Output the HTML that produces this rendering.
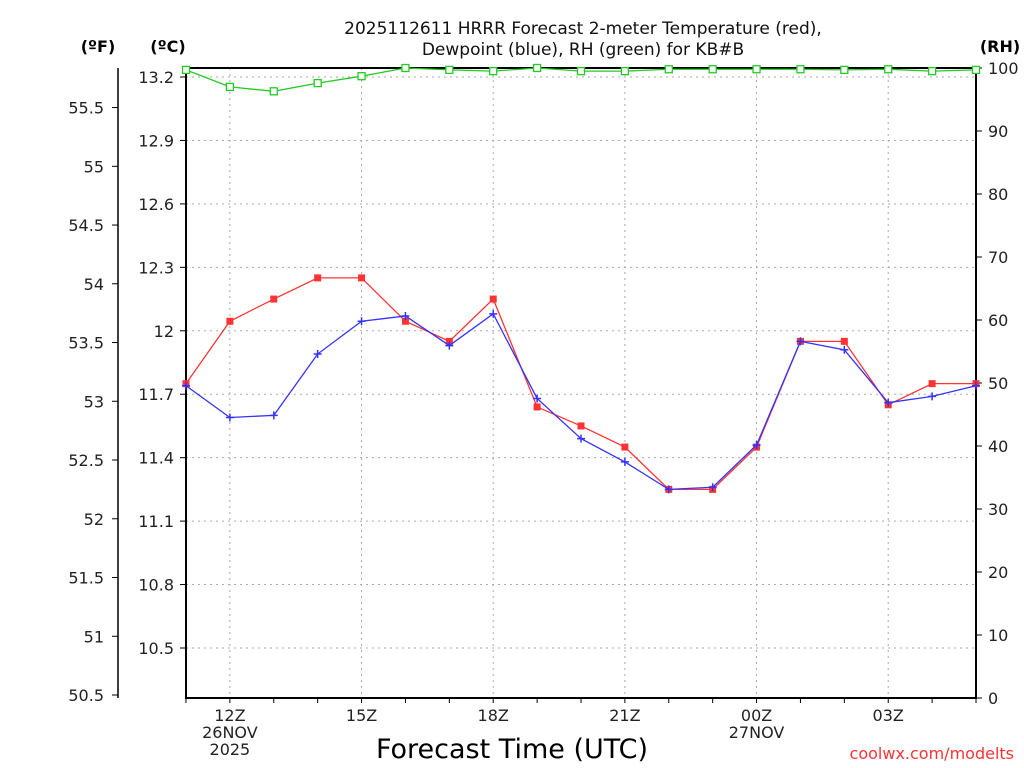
<!DOCTYPE html>
<html><head><meta charset="utf-8"><style>
body{margin:0;background:#fff;}
svg{display:block;font-family:"DejaVu Sans","Liberation Sans",sans-serif;}
</style></head><body>
<svg id="c" width="1024" height="768"></svg>
<script>
const hours=["11Z","12Z","13Z","14Z","15Z","16Z","17Z","18Z","19Z","20Z","21Z","22Z","23Z","00Z","01Z","02Z","03Z","04Z","05Z"];
const tempC=[11.75,12.045,12.15,12.25,12.25,12.045,11.95,12.15,11.64,11.55,11.45,11.25,11.25,11.45,11.95,11.95,11.65,11.75,11.75];
const dewC=[11.74,11.59,11.60,11.89,12.045,12.07,11.93,12.08,11.68,11.49,11.38,11.25,11.26,11.46,11.95,11.91,11.66,11.69,11.74];
const rh=[99.7,97,96.3,97.6,98.7,100,99.7,99.5,100,99.5,99.5,99.8,99.8,99.8,99.8,99.7,99.8,99.5,99.7];
const cTicks=[10.5,10.8,11.1,11.4,11.7,12,12.3,12.6,12.9,13.2];
const fTicks=[50.5,51,51.5,52,52.5,53,53.5,54,54.5,55,55.5];
const rhTicks=[0,10,20,30,40,50,60,70,80,90,100];
const xLabels=[[1,"12Z","26NOV","2025"],[4,"15Z"],[7,"18Z"],[10,"21Z"],[13,"00Z","27NOV"],[16,"03Z"]];
const L=186,R=976,T=68,B=698;
const xs=i=>L+i*(R-L)/18;
const yC=c=>77+(13.2-c)*(571/2.7);
const yF=f=>yC((f-32)*5/9);
const yR=r=>B-r*(B-T)/100;
const svg=document.getElementById('c');
const NS="http://www.w3.org/2000/svg";
function mk(tag,a,txt){const e=document.createElementNS(NS,tag);for(const k in a)e.setAttribute(k,a[k]);if(txt!==undefined)e.textContent=txt;svg.appendChild(e);return e;}
// grid
cTicks.forEach(c=>{const e=mk('line',{x1:L,x2:R,y1:yC(c),y2:yC(c),stroke:'#aaa','stroke-dasharray':'2,4'});

});
xLabels.forEach(l=>{const e=mk('line',{x1:xs(l[0]),x2:xs(l[0]),y1:T,y2:B,stroke:'#aaa','stroke-dasharray':'2,4'});

});
// frame
mk('rect',{x:L,y:T,width:R-L,height:B-T,fill:'none',stroke:'#000','stroke-width':2});
// F axis
mk('line',{x1:118,x2:118,y1:T,y2:B,stroke:'#000','stroke-width':1.5});
fTicks.forEach(f=>{const y=yF(f);mk('line',{x1:112,x2:118,y1:y,y2:y,stroke:'#000'});
const t=mk('text',{x:104,y:y+6,'text-anchor':'end','font-size':16,fill:'#222'},String(f));

});
cTicks.forEach(c=>{const y=yC(c);mk('line',{x1:L-6,x2:L,y1:y,y2:y,stroke:'#000'});
const t=mk('text',{x:174,y:y+6,'text-anchor':'end','font-size':16,fill:'#222'},String(c));

});
rhTicks.forEach(r=>{const y=yR(r);mk('line',{x1:R,x2:R+6,y1:y,y2:y,stroke:'#000'});
const t=mk('text',{x:988,y:y+6,'font-size':16,fill:'#222'},String(r));

});
hours.forEach((h,i)=>mk('line',{x1:xs(i),x2:xs(i),y1:B,y2:B+5,stroke:'#000'}));
xLabels.forEach(l=>{l.slice(1).forEach((s,j)=>{const t=mk('text',{x:xs(l[0]),y:721+j*17,'text-anchor':'middle','font-size':16,fill:'#222'},s);

});});
// series
function series(vals,yf,color,name,marker){
 const pts=vals.map((v,i)=>xs(i)+','+yf(v)).join(' ');
 const p=mk('polyline',{points:pts,fill:'none',stroke:color,'stroke-width':1.3});
 
 
 vals.forEach((v,i)=>{const x=xs(i),y=yf(v);let m;
  if(marker==='sq')m=mk('rect',{x:x-3.5,y:y-3.5,width:7,height:7,fill:color});
  else if(marker==='osq')m=mk('rect',{x:x-3.5,y:y-3.5,width:7,height:7,fill:'#fff',stroke:color,'stroke-width':1.3});
  else m=mk('path',{d:`M${x-4} ${y}H${x+4}M${x} ${y-4}V${y+4}`,stroke:color,'stroke-width':1.5});
  
  });
}
series(rh,yR,'#22cc22','rh','osq');
series(tempC,yC,'#ff3333','temperature','sq');
series(dewC,yC,'#3333ff','dewpoint','plus');
// titles
[["2025112611 HRRR Forecast 2-meter Temperature (red),",34],["Dewpoint (blue), RH (green) for KB#B",55]].forEach(a=>{
const t=mk('text',{x:583,y:a[1],'text-anchor':'middle','font-size':17,fill:'#111'},a[0]);

});
[["(ºF)",98],["(ºC)",168],["(RH)",1000]].forEach(a=>{const t=mk('text',{x:a[1],y:52,'text-anchor':'middle','font-size':16,'font-weight':'bold',fill:'#000'},a[0]);

});
const xt=mk('text',{x:512,y:758,'text-anchor':'middle','font-size':27,fill:'#000'},'Forecast Time (UTC)');


const cr=mk('text',{x:1014,y:759,'text-anchor':'end','font-size':16,fill:'#ff3333'},'coolwx.com/modelts');


</script>
</body></html>
